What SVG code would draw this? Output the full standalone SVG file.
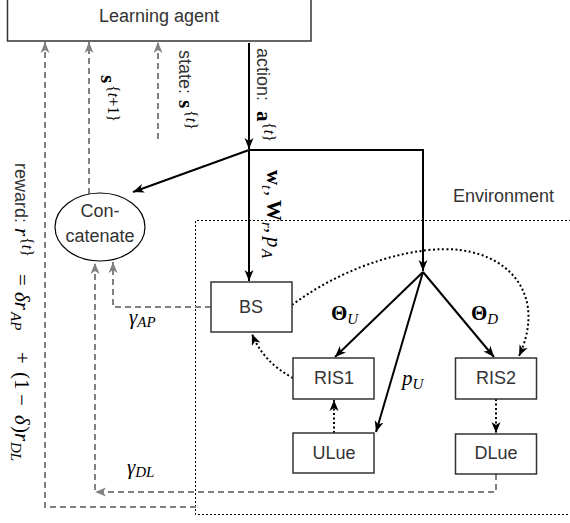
<svg xmlns="http://www.w3.org/2000/svg" width="570" height="523" viewBox="0 0 570 523">
<style>
.box{fill:#fff;stroke:#333;stroke-width:1.5}
.lbl{font-family:"Liberation Sans",Arial,sans-serif;font-size:18px;fill:#333}
.m{font-family:"Liberation Serif","Times New Roman",serif;font-size:21px;fill:#000}
.it{font-style:italic}
.bf{font-weight:bold}
.sub{font-size:15px}
.sup{font-size:16px}
.solid{fill:none;stroke:#000;stroke-width:2}
.dot{fill:none;stroke:#000;stroke-width:2;stroke-dasharray:2 2.5}
.dash{fill:none;stroke:#808080;stroke-width:2;stroke-dasharray:6 4}
.env{fill:none;stroke:#000;stroke-width:1;stroke-dasharray:2 2}
</style>
<defs>
<marker id="ab" markerWidth="12" markerHeight="10" refX="11" refY="5" orient="auto" markerUnits="userSpaceOnUse"><path d="M0,0.5 L11,5 L0,9.5 L3,5 Z" fill="#000"/></marker>
<marker id="ag" markerWidth="12" markerHeight="10" refX="11" refY="5" orient="auto" markerUnits="userSpaceOnUse"><path d="M0,0.5 L11,5 L0,9.5 L3,5 Z" fill="#808080"/></marker>
</defs>
<rect width="570" height="523" fill="#fff"/>

<g id="environment">
<path class="env" d="M571,220.5 H195.5 V514.5 H571"/>
<text class="lbl" x="453" y="202">Environment</text>
</g>

<g id="connectors">
<path class="solid" d="M249,43 V149" marker-end="url(#ab)"/>
<path class="solid" d="M249,150 L133,192" marker-end="url(#ab)"/>
<path class="solid" d="M249,150 V281" marker-end="url(#ab)"/>
<path class="solid" d="M249,150 H423 V271" marker-end="url(#ab)"/>
<path class="solid" d="M423,272 L335,357" marker-end="url(#ab)"/>
<path class="solid" d="M423,272 L376,432" marker-end="url(#ab)"/>
<path class="solid" d="M423,272 L494,357" marker-end="url(#ab)"/>
<path class="dot" d="M292,305 C350,262 420,245 460,250 C515,257 545,300 519,356" marker-end="url(#ab)"/>
<path class="dot" d="M293,378 Q263,362 252,334" marker-end="url(#ab)"/>
<path class="dot" d="M334,433 V400" marker-end="url(#ab)"/>
<path class="dot" d="M496,399 V433" marker-end="url(#ab)"/>
<path class="dash" d="M89,194 V42" marker-end="url(#ag)"/>
<path class="dash" d="M158,139 V42" marker-end="url(#ag)"/>
<path class="dash" d="M196,507 H45 V42" marker-end="url(#ag)"/>
<path class="dash" d="M496,474 V492 H95" marker-end="url(#ag)"/>
<path class="dash" d="M95,490 V263" marker-end="url(#ag)"/>
<path class="dash" d="M211,307 H113 V262" marker-end="url(#ag)"/>
</g>

<g id="labels">
<text transform="translate(179,0) rotate(90)"><tspan class="lbl" x="50" y="0">state:</tspan><tspan class="m bf" x="100" y="0">s</tspan><tspan class="m sup" x="110" y="-7">{<tspan class="it">t</tspan>}</tspan></text>
<text transform="translate(101,0) rotate(90)"><tspan class="m bf" x="75" y="0">s</tspan><tspan class="m sup" x="85" y="-7">{<tspan class="it">t</tspan>+1}</tspan></text>
<text transform="translate(257,0) rotate(90)"><tspan class="lbl" x="48" y="0">action:</tspan><tspan class="m bf" x="111" y="0">a</tspan><tspan class="m sup" x="122" y="-7">{<tspan class="it">t</tspan>}</tspan></text>
<text transform="translate(267,0) rotate(90)"><tspan class="m bf" x="170" y="0">w</tspan><tspan class="m it sub" x="185" y="5">t</tspan><tspan class="m" x="191" y="0">,</tspan><tspan class="m bf" x="200" y="0">W</tspan><tspan class="m it sub" x="222" y="5">r</tspan><tspan class="m" x="228" y="0">,</tspan><tspan class="m it" x="237" y="0">p</tspan><tspan class="m it sub" x="249" y="5">A</tspan></text>
<text transform="translate(15,0) rotate(90)"><tspan class="lbl" x="163" y="0">reward:</tspan><tspan class="m it" x="228" y="0">r</tspan><tspan class="m sup" x="237" y="-7">{<tspan class="it">t</tspan>}</tspan><tspan class="m" x="274" y="0">=</tspan><tspan class="m it" x="292" y="0">δr</tspan><tspan class="m it sub" x="312" y="4">AP</tspan><tspan class="m" x="352" y="0">+</tspan><tspan class="m" x="372" y="0">(1</tspan><tspan class="m" x="394" y="0">−</tspan><tspan class="m it" x="415" y="0">δ</tspan><tspan class="m" x="426" y="0">)</tspan><tspan class="m it" x="433" y="0">r</tspan><tspan class="m it sub" x="442" y="4">DL</tspan></text>
<text x="331" y="320"><tspan class="m bf">Θ</tspan><tspan class="m it sub" dy="4">U</tspan></text>
<text x="471" y="320"><tspan class="m bf">Θ</tspan><tspan class="m it sub" dy="4">D</tspan></text>
<text x="402" y="385"><tspan class="m it">p</tspan><tspan class="m it sub" dy="4">U</tspan></text>
<text x="129" y="324"><tspan class="m it">γ</tspan><tspan class="m it sub" dy="3">AP</tspan></text>
<text x="127" y="474"><tspan class="m it">γ</tspan><tspan class="m it sub" dy="3">DL</tspan></text>
</g>

<g id="agent">
<rect class="box" x="7.5" y="-1" width="303.5" height="42"/>
<text class="lbl" x="159" y="22" text-anchor="middle">Learning agent</text>
</g>
<g id="concatenate">
<ellipse cx="100" cy="227" rx="45" ry="34" fill="#fff" stroke="#000" stroke-width="1.2"/>
<text class="lbl" x="100" y="217" text-anchor="middle">Con-</text>
<text class="lbl" x="100" y="242" text-anchor="middle">catenate</text>
</g>
<g id="bs">
<rect class="box" x="211" y="282" width="81" height="50"/>
<text class="lbl" x="251" y="313" text-anchor="middle">BS</text>
</g>
<g id="ris1">
<rect class="box" x="293" y="358" width="81" height="41"/>
<text class="lbl" x="334" y="384" text-anchor="middle">RIS1</text>
</g>
<g id="ris2">
<rect class="box" x="455.5" y="358" width="81" height="41"/>
<text class="lbl" x="496" y="384" text-anchor="middle">RIS2</text>
</g>
<g id="ulue">
<rect class="box" x="293" y="433" width="81" height="40"/>
<text class="lbl" x="334" y="459" text-anchor="middle">ULue</text>
</g>
<g id="dlue">
<rect class="box" x="455.5" y="434" width="81" height="40"/>
<text class="lbl" x="496" y="459" text-anchor="middle">DLue</text>
</g>
</svg>
